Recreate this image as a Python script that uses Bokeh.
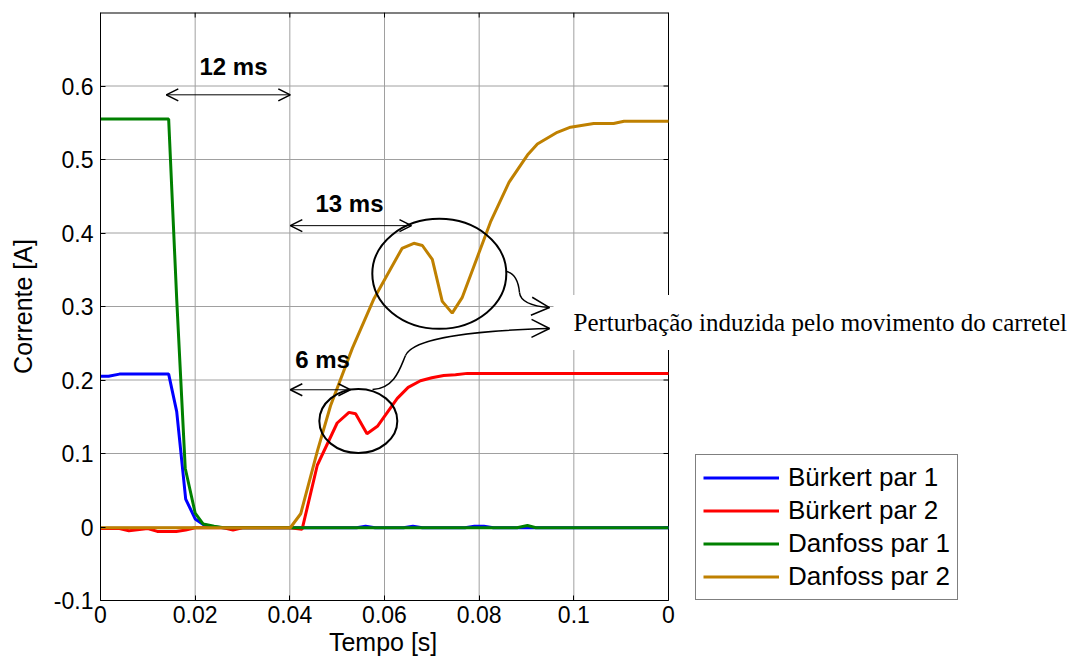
from bokeh.plotting import figure
from bokeh.models import Range1d, FixedTicker, Label, Arrow, OpenHead, Title
from bokeh.embed import file_html
from bokeh.resources import INLINE

# ---------------- data ----------------
series_names = ["Bürkert par 1", "Bürkert par 2", "Danfoss par 1", "Danfoss par 2"]
series_colors = ["#0000FF", "#FF0000", "#008000", "#BF8000"]

burkert1_t = [0, 0.0017, 0.0040, 0.0144, 0.0161, 0.0180, 0.0200, 0.0218, 0.0240, 0.0260,
              0.0541, 0.0560, 0.0580, 0.0640, 0.0660, 0.0680, 0.0770, 0.0790, 0.0810, 0.0830, 0.12]
burkert1_i = [0.205, 0.205, 0.208, 0.208, 0.157, 0.038, 0.011, 0.003, 0.0, -0.001,
              -0.001, 0.001, -0.001, -0.001, 0.001, -0.001, -0.001, 0.001, 0.001, -0.001, -0.001]

burkert2_t = [0, 0.004, 0.006, 0.010, 0.012, 0.016, 0.018, 0.020, 0.026, 0.028, 0.030, 0.040,
              0.0426, 0.0458, 0.0500, 0.0525, 0.0539, 0.0563, 0.0585, 0.0627, 0.0650, 0.0676,
              0.0700, 0.0725, 0.0750, 0.0775, 0.12]
burkert2_i = [-0.002, -0.002, -0.005, -0.002, -0.006, -0.006, -0.004, -0.001, -0.001, -0.004, -0.001, -0.001,
              -0.003, 0.084, 0.1415, 0.156, 0.154, 0.127, 0.137, 0.175, 0.190, 0.199,
              0.203, 0.206, 0.207, 0.209, 0.209]

danfoss1_t = [0, 0.0144, 0.0161, 0.0179, 0.0200, 0.0217, 0.0240, 0.0260, 0.0880, 0.0902, 0.0920, 0.12]
danfoss1_i = [0.555, 0.555, 0.31, 0.08, 0.019, 0.004, 0.001, -0.001, -0.001, 0.002, -0.001, -0.001]

danfoss2_t = [0, 0.0401, 0.0423, 0.0458, 0.0486, 0.0532, 0.0578, 0.0637, 0.0662, 0.0680, 0.0701,
              0.0722, 0.0743, 0.0764, 0.0824, 0.0863, 0.0902, 0.0923, 0.0965, 0.0993, 0.1042,
              0.1084, 0.1106, 0.12]
danfoss2_i = [-0.001, -0.001, 0.018, 0.103, 0.165, 0.243, 0.311, 0.379, 0.386, 0.383, 0.364,
              0.307, 0.291, 0.312, 0.415, 0.469, 0.506, 0.521, 0.537, 0.544, 0.549,
              0.549, 0.552, 0.552]

x_ticks = [0, 0.02, 0.04, 0.06, 0.08, 0.1, 0.12]
x_tick_labels = ["0", "0.02", "0.04", "0.06", "0.08", "0.1", "0"]
y_ticks = [-0.1, 0, 0.1, 0.2, 0.3, 0.4, 0.5, 0.6]
y_tick_labels = ["-0.1", "0", "0.1", "0.2", "0.3", "0.4", "0.5", "0.6"]

x_title = "Tempo [s]"
y_title = "Corrente [A]"
annotation_text = "Perturbação induzida pelo movimento do carretel"

# ---------------- layout ----------------
X_MIN, X_MAX = 0.0, 0.12
Y_MIN, Y_MAX = -0.1, 0.7
FIG_W, FIG_H = 1077, 659
LEFT, TOP, BOTTOM = 100, 12, 59
PLOT_PX = 568                       # width of the axes box in pixels
FRAME_PX = FIG_W - LEFT             # frame reaches the right edge (legend / note live there)
X_END = X_MAX * FRAME_PX / PLOT_PX
PX = X_MAX / PLOT_PX                # data units per pixel (x)
PY = (Y_MAX - Y_MIN) / (FIG_H - TOP - BOTTOM)

FONT = "Liberation Sans"
p = figure(width=FIG_W, height=FIG_H, output_backend="svg", toolbar_location=None,
           x_range=Range1d(X_MIN, X_END), y_range=Range1d(Y_MIN, Y_MAX),
           min_border_left=LEFT, min_border_right=0, min_border_top=TOP, min_border_bottom=BOTTOM)
p.background_fill_color = "white"
p.border_fill_color = "white"
p.outline_line_color = None
p.grid.visible = False

for ax, ticks, labels in [(p.xaxis[0], x_ticks, x_tick_labels), (p.yaxis[0], y_ticks, y_tick_labels)]:
    ax.ticker = FixedTicker(ticks=ticks)
    ax.major_label_overrides = dict(zip(ticks, labels))
    ax.minor_tick_line_color = None
    ax.major_tick_in = 5
    ax.major_tick_out = 0
    ax.axis_line_color = "black"
    ax.major_tick_line_color = "black"
    ax.major_label_text_font = FONT
    ax.major_label_text_font_size = "23px"
    ax.major_label_text_color = "black"
    ax.axis_label_text_font = FONT
    ax.axis_label_text_font_size = "25px"
    ax.axis_label_text_font_style = "normal"
    ax.axis_label_text_color = "black"

p.xaxis.bounds = (X_MIN, X_MAX)
p.yaxis.axis_label = y_title
p.xaxis.major_label_standoff = 5
p.yaxis.major_label_standoff = 7
p.yaxis.axis_label_standoff = 14

# x-axis title centred under the axes box (frame itself is wider)
TITLE_FS = 25
title_w = 4.446 * TITLE_FS   # approximate text width of the title in Liberation Sans
p.add_layout(Title(text=x_title, align="left", offset=PLOT_PX / 2 - title_w / 2,
                   text_font=FONT, text_font_size=f"{TITLE_FS}px", text_font_style="normal",
                   text_color="black", standoff=0), "below")

# grid lines (limited to the axes box)
gx = [t for t in x_ticks if X_MIN < t < X_MAX]
gy = [v for v in y_ticks if Y_MIN < v < Y_MAX]
p.segment(x0=gx, y0=[Y_MIN] * len(gx), x1=gx, y1=[Y_MAX] * len(gx), line_color="#a0a0a0", line_width=1)
p.segment(x0=[X_MIN] * len(gy), y0=gy, x1=[X_MAX] * len(gy), y1=gy, line_color="#a0a0a0", line_width=1)

# right and top box edges with inward ticks
p.segment(x0=[X_MAX], y0=[Y_MIN], x1=[X_MAX], y1=[Y_MAX], line_color="black", line_width=1)
p.segment(x0=[X_MIN], y0=[Y_MAX], x1=[X_MAX], y1=[Y_MAX], line_color="black", line_width=2)
p.segment(x0=[X_MAX - 5 * PX] * len(y_ticks), y0=y_ticks, x1=[X_MAX] * len(y_ticks), y1=y_ticks,
          line_color="black", line_width=1)
p.segment(x0=x_ticks, y0=[Y_MAX - 5 * PY] * len(x_ticks), x1=x_ticks, y1=[Y_MAX] * len(x_ticks),
          line_color="black", line_width=1)

all_t = [burkert1_t, burkert2_t, danfoss1_t, danfoss2_t]
all_i = [burkert1_i, burkert2_i, danfoss1_i, danfoss2_i]
for t, i, name, c in zip(all_t, all_i, series_names, series_colors):
    p.line(t, i, line_color=c, line_width=3, legend_label=name)

# ellipses around the disturbances
p.ellipse(x=[0.07158, 0.05447], y=[0.3445, 0.1442], width=[134, 78], height=[110, 64],
          width_units="screen", height_units="screen", fill_color=None,
          line_color="black", line_width=2)

# connectors from the ellipses to the note
p.bezier(x0=[0.08578, 0.08852, 0.05747, 0.06444],
         y0=[0.3476, 0.3190, 0.1871, 0.2333],
         x1=[0.08852, 0.09486, 0.06444, 0.09486],
         y1=[0.3190, 0.2986, 0.2333, 0.2701],
         cx0=[0.08768, 0.08873, 0.06232, 0.06613],
         cy0=[0.3449, 0.3054, 0.1884, 0.2592],
         cx1=[0.08831, 0.09190, 0.06338, 0.08028],
         cy1=[0.3340, 0.3000, 0.2184, 0.2673],
         line_color="black", line_width=1.5)
for (xs, ys, xe, ye) in [(0.0919, 0.3000, 0.09486, 0.2986), (0.0900, 0.2703, 0.09486, 0.2701)]:
    p.add_layout(Arrow(x_start=xs, y_start=ys, x_end=xe, y_end=ye, line_alpha=0,
                       end=OpenHead(size=18, line_width=1.5, line_color="black")))

# time span arrows
spans = [(0.0139, 0.0401, 0.588), (0.0401, 0.0657, 0.410), (0.0401, 0.0528, 0.1867)]
for xs, xe, yy in spans:
    p.add_layout(Arrow(x_start=xs, y_start=yy, x_end=xe, y_end=yy, line_color="black", line_width=1,
                       start=OpenHead(size=12, line_width=1.5, line_color="black"),
                       end=OpenHead(size=12, line_width=1.5, line_color="black")))

for txt, xx, yy in [("12 ms", 0.0281, 0.627), ("13 ms", 0.0526, 0.4395), ("6 ms", 0.0469, 0.2279)]:
    p.add_layout(Label(x=xx, y=yy, text=txt, text_font=FONT, text_font_style="bold",
                       text_font_size="24px", text_align="center", text_baseline="middle",
                       text_color="black"))

p.add_layout(Label(x=0.0957, y=0.2782, text=annotation_text, text_font="Liberation Serif",
                   text_font_size="25px", text_align="left", text_baseline="middle",
                   text_color="black", background_fill_color="white",
                   padding=dict(left=20, right=30, top=14, bottom=14)))

lg = p.legend[0]
lg.location = (595, 0)
lg.margin = 0
lg.padding = 7
lg.spacing = 2
lg.label_height = 29
lg.glyph_height = 29
lg.glyph_width = 76
lg.label_standoff = 9
lg.label_text_font = FONT
lg.label_text_font_size = "26px"
lg.label_text_color = "black"
lg.border_line_color = "black"
lg.border_line_width = 1
lg.background_fill_color = "white"
lg.background_fill_alpha = 1

open("out.html", "w").write(file_html(p, INLINE))
